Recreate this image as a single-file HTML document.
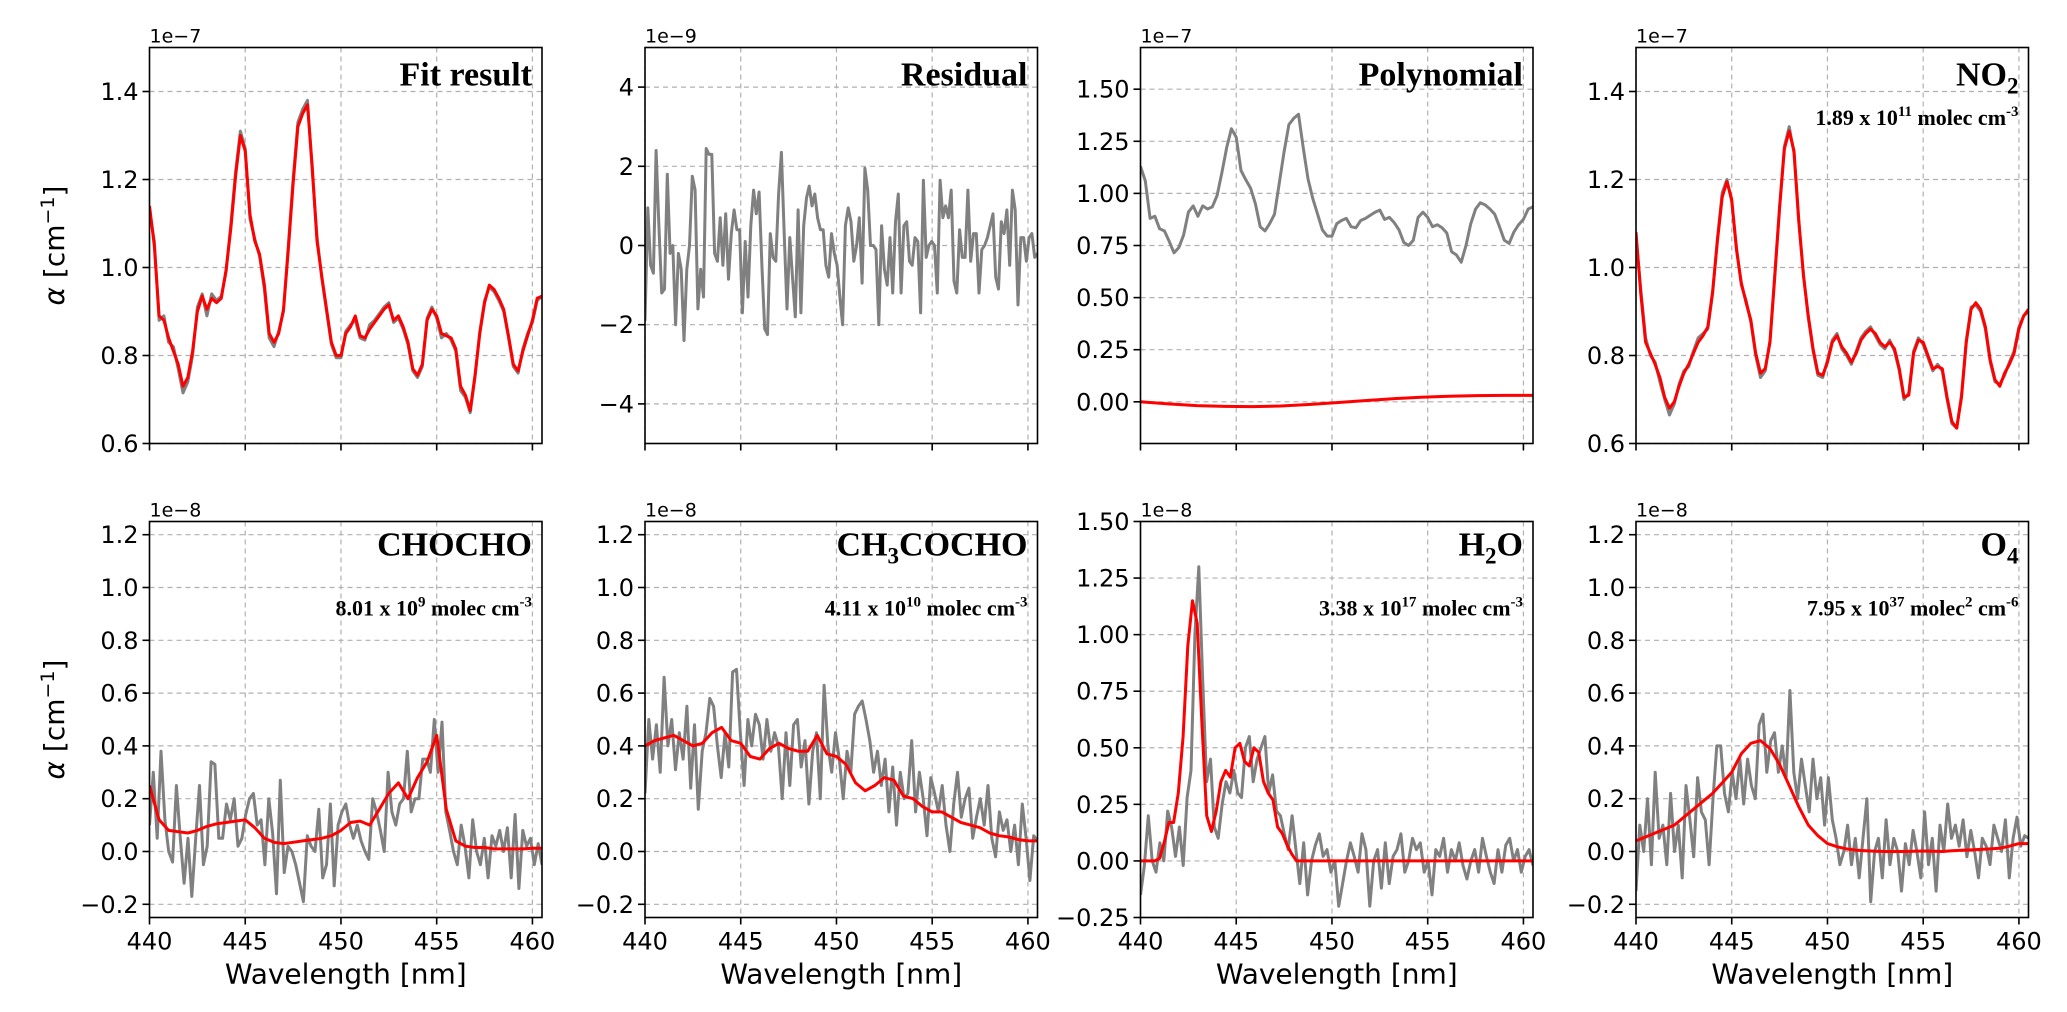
<!DOCTYPE html>
<html><head><meta charset="utf-8"><style>
html,body{margin:0;padding:0;background:#fff;}
svg{display:block;}
</style></head><body>
<svg id="fig" width="2067" height="1012" viewBox="0 0 2067 1012" xmlns="http://www.w3.org/2000/svg" font-family="'DejaVu Sans','Liberation Sans',sans-serif"></svg>
<script>
// ---------- DATA ----------
const xStart = 440, xEnd = 460.5;
const fitFit = [1.14,1.05,0.89,0.88,0.84,0.81,0.78,0.73,0.75,0.81,0.90,0.935,0.905,0.93,0.92,0.93,0.995,1.09,1.21,1.30,1.265,1.12,1.06,1.03,0.96,0.85,0.83,0.85,0.905,1.04,1.19,1.32,1.35,1.37,1.23,1.06,0.98,0.905,0.83,0.80,0.80,0.85,0.865,0.89,0.845,0.84,0.86,0.875,0.89,0.905,0.915,0.88,0.89,0.865,0.83,0.77,0.755,0.78,0.88,0.905,0.89,0.85,0.845,0.84,0.815,0.73,0.71,0.675,0.755,0.85,0.92,0.96,0.95,0.93,0.905,0.845,0.78,0.765,0.81,0.845,0.88,0.93,0.935];
const fitMeasured = [1.13,1.06,0.88,0.89,0.83,0.82,0.77,0.715,0.74,0.80,0.91,0.94,0.89,0.94,0.925,0.935,0.99,1.10,1.22,1.31,1.27,1.11,1.065,1.025,0.95,0.84,0.82,0.855,0.90,1.05,1.20,1.33,1.36,1.38,1.22,1.07,0.975,0.90,0.825,0.795,0.795,0.855,0.87,0.88,0.84,0.835,0.87,0.88,0.895,0.91,0.92,0.875,0.885,0.86,0.825,0.765,0.75,0.775,0.885,0.91,0.885,0.84,0.85,0.835,0.81,0.72,0.705,0.67,0.75,0.855,0.925,0.955,0.945,0.925,0.90,0.84,0.775,0.76,0.815,0.85,0.875,0.925,0.935];
const residual = [-1.9,0.95,-0.5,-0.7,2.4,0.5,-1.2,-1.1,1.8,-0.2,0.0,-2.0,-0.2,-0.6,-2.4,-0.6,0.0,1.75,1.4,-1.6,-0.6,-1.3,2.45,2.3,2.3,-0.2,-0.4,0.7,-0.5,0.8,-0.85,0.3,0.9,0.4,0.4,-1.7,0.1,-1.3,0.5,1.4,0.8,1.35,-0.5,-2.1,-2.25,0.3,-0.3,-0.4,1.3,2.35,0.3,-1.6,0.2,-0.8,-1.8,0.9,-1.7,0.5,1.2,1.5,1.0,1.3,0.7,0.4,0.4,-0.5,-0.8,0.3,-0.2,-0.5,-1.3,-2.0,0.5,0.95,0.6,-0.4,0.0,0.7,-0.95,1.95,1.4,0.0,0.0,-0.1,-2.0,0.5,-0.6,-1.0,0.2,-1.2,0.6,1.3,-1.2,0.5,0.6,-0.4,-0.5,0.2,0.1,-1.7,1.65,-0.3,0.0,0.1,0.0,-1.2,1.65,0.7,1.0,0.7,1.4,-0.9,-1.2,0.4,-0.3,-0.3,1.4,-0.4,0.3,0.3,-1.2,-0.1,0.0,0.2,0.5,0.8,-0.8,-1.1,0.6,0.3,0.9,-0.5,1.4,0.9,-1.5,0.2,0.2,-0.4,0.2,0.3,-0.3,-0.2];
const polyFit = [0.0,-0.01,-0.018,-0.022,-0.023,-0.02,-0.013,-0.004,0.006,0.015,0.022,0.027,0.03,0.031,0.031];
const no2Fit = [1.08,0.94,0.83,0.805,0.78,0.75,0.705,0.68,0.695,0.73,0.76,0.78,0.805,0.83,0.845,0.865,0.945,1.06,1.16,1.195,1.155,1.04,0.965,0.92,0.88,0.805,0.76,0.77,0.83,0.98,1.135,1.27,1.31,1.265,1.11,0.98,0.89,0.815,0.76,0.755,0.785,0.83,0.845,0.82,0.805,0.785,0.805,0.835,0.85,0.86,0.85,0.83,0.82,0.83,0.815,0.77,0.705,0.71,0.805,0.835,0.83,0.8,0.77,0.775,0.77,0.705,0.65,0.635,0.705,0.83,0.905,0.92,0.905,0.865,0.79,0.745,0.73,0.76,0.78,0.805,0.86,0.89,0.905];
const no2Meas = [1.07,0.95,0.84,0.80,0.785,0.74,0.70,0.665,0.69,0.735,0.765,0.775,0.81,0.84,0.85,0.86,0.94,1.065,1.17,1.20,1.15,1.045,0.96,0.925,0.875,0.80,0.75,0.765,0.835,0.985,1.14,1.275,1.32,1.26,1.105,0.985,0.885,0.81,0.755,0.75,0.79,0.835,0.85,0.815,0.80,0.78,0.81,0.84,0.855,0.865,0.845,0.825,0.815,0.835,0.81,0.765,0.70,0.715,0.81,0.84,0.825,0.795,0.765,0.78,0.765,0.70,0.645,0.635,0.71,0.835,0.91,0.915,0.90,0.86,0.785,0.74,0.735,0.755,0.785,0.81,0.865,0.89,0.90];
const chochoMeas = [0.1,0.3,0.05,0.38,0.12,0.0,-0.04,0.25,0.05,-0.12,0.05,-0.17,0.05,0.25,-0.05,0.02,0.34,0.33,0.05,0.05,0.18,0.12,0.2,0.02,0.05,0.14,0.2,0.22,0.1,0.12,-0.05,0.2,0.07,-0.16,0.27,-0.08,0.02,0.0,-0.05,-0.12,-0.19,0.06,0.02,0.0,0.16,-0.1,-0.05,0.18,-0.13,0.1,0.15,0.18,0.1,0.05,0.1,0.04,0.0,-0.03,0.2,0.15,0.08,0.0,0.3,0.15,0.1,0.18,0.2,0.38,0.15,0.2,0.2,0.35,0.35,0.3,0.5,0.3,0.49,0.15,0.08,0.0,-0.05,0.1,0.02,-0.1,0.12,0.0,-0.05,0.05,-0.1,0.06,0.02,0.08,0.0,0.09,-0.1,0.14,-0.14,0.08,0.02,0.05,-0.05,0.03,-0.05];
const chochoFit = [0.25,0.12,0.08,0.075,0.07,0.08,0.095,0.105,0.11,0.115,0.12,0.09,0.05,0.035,0.03,0.035,0.04,0.045,0.05,0.06,0.08,0.11,0.115,0.1,0.16,0.22,0.26,0.2,0.28,0.34,0.44,0.16,0.04,0.02,0.015,0.015,0.01,0.01,0.01,0.01,0.012,0.012];
const mgMeas = [0.22,0.5,0.35,0.48,0.3,0.66,0.4,0.5,0.31,0.45,0.35,0.55,0.24,0.48,0.16,0.38,0.45,0.58,0.55,0.4,0.28,0.45,0.32,0.68,0.69,0.45,0.25,0.5,0.4,0.52,0.48,0.35,0.5,0.38,0.45,0.4,0.2,0.45,0.25,0.48,0.5,0.32,0.42,0.18,0.38,0.45,0.2,0.63,0.4,0.3,0.45,0.35,0.2,0.38,0.3,0.52,0.55,0.57,0.5,0.42,0.3,0.38,0.25,0.35,0.15,0.32,0.1,0.3,0.2,0.22,0.42,0.15,0.3,0.2,0.06,0.28,0.22,0.15,0.25,0.1,0.0,0.18,0.3,0.13,0.2,0.24,0.05,0.13,0.2,0.1,0.25,0.05,-0.02,0.15,0.08,0.12,0.0,0.1,-0.05,0.18,0.05,-0.11,0.06,0.04];
const mgFit = [0.40,0.42,0.43,0.44,0.42,0.40,0.41,0.45,0.47,0.42,0.41,0.36,0.35,0.39,0.41,0.39,0.38,0.38,0.44,0.37,0.36,0.33,0.26,0.23,0.25,0.28,0.27,0.21,0.2,0.17,0.15,0.15,0.13,0.11,0.1,0.09,0.07,0.06,0.055,0.045,0.04,0.04];
const h2oMeas = [-0.15,-0.02,0.2,0.0,-0.05,0.08,0.0,0.22,0.15,0.02,0.15,-0.02,0.28,0.4,1.0,1.3,0.8,0.35,0.45,0.15,0.1,0.25,0.35,0.3,0.4,0.3,0.28,0.5,0.55,0.35,0.45,0.5,0.55,0.3,0.38,0.22,0.2,0.12,0.05,0.2,0.05,-0.1,0.08,-0.15,0.0,0.07,0.12,0.02,0.05,-0.05,0.0,-0.2,-0.1,0.0,0.08,0.02,-0.05,0.12,0.05,-0.2,0.0,0.05,-0.12,0.08,-0.1,0.02,0.05,0.12,-0.05,0.0,0.1,0.05,0.08,-0.05,0.0,-0.15,0.05,0.02,0.1,-0.05,0.05,0.0,0.08,-0.02,-0.08,0.0,0.05,-0.05,0.1,0.02,-0.05,-0.1,0.05,-0.05,0.07,0.1,0.0,0.05,-0.05,0.02,0.05,-0.02];
const h2oFit = [0,0,0,0,0.01,0.08,0.17,0.17,0.3,0.55,0.95,1.15,1.05,0.6,0.2,0.13,0.22,0.35,0.4,0.37,0.5,0.52,0.44,0.42,0.5,0.48,0.35,0.3,0.27,0.15,0.12,0.07,0.03,0,0,0,0,0,0,0,0,0,0,0,0,0,0,0,0,0,0,0,0,0,0,0,0,0,0,0,0,0,0,0,0,0,0,0,0,0,0,0,0,0,0,0,0,0,0,0,0,0,0,0];
const o4Meas = [-0.15,0.1,0.0,0.2,-0.05,0.3,0.05,0.1,-0.05,0.22,0.0,0.1,-0.1,0.25,0.12,-0.02,0.28,0.15,0.12,-0.05,0.2,0.4,0.4,0.22,0.15,0.3,0.2,0.35,0.18,0.35,0.25,0.2,0.48,0.52,0.3,0.42,0.45,0.3,0.4,0.28,0.61,0.3,0.2,0.35,0.25,0.15,0.35,0.2,0.28,0.1,0.28,0.12,0.05,-0.05,0.0,0.1,-0.05,0.05,-0.1,0.05,0.2,-0.19,0.0,0.05,-0.1,0.12,-0.05,0.05,0.0,-0.15,0.03,-0.05,0.08,0.0,-0.1,0.15,-0.05,0.05,-0.15,0.1,0.0,0.18,0.05,0.1,0.02,0.12,-0.02,0.08,0.0,-0.1,0.05,0.02,-0.05,0.1,0.05,0.0,0.12,-0.1,0.05,0.13,0.02,0.06,0.05];
const o4Fit = [0.04,0.055,0.07,0.085,0.1,0.13,0.16,0.19,0.22,0.26,0.3,0.37,0.41,0.42,0.39,0.33,0.25,0.17,0.1,0.06,0.03,0.018,0.01,0.005,0.003,0.001,0.0,0.0,0.0,0.001,0.002,0.001,0.0,0.003,0.005,0.006,0.008,0.01,0.012,0.02,0.03,0.03];
const xTicks = [440,445,450,455,460];
const ticksFit = [0.6,0.8,1.0,1.2,1.4];
const ticksRes = [-4,-2,0,2,4];
const ticksPoly = [0,0.25,0.5,0.75,1.0,1.25,1.5];
const ticksBot = [-0.2,0,0.2,0.4,0.6,0.8,1.0,1.2];
const ticksH2O = [-0.25,0,0.25,0.5,0.75,1.0,1.25,1.5];

// ---------- DRAW ----------
const NS='http://www.w3.org/2000/svg';
const svg=document.getElementById('fig');
function mk(tag,attrs,parent){const e=document.createElementNS(NS,tag);for(const k in attrs)e.setAttribute(k,attrs[k]);(parent||svg).appendChild(e);return e;}
function fmt(v,d){let s=v.toFixed(d);if(v<0)s='\u2212'+(-v).toFixed(d);if(Math.abs(v)<1e-9)s=(0).toFixed(d);return s;}

const W=392.5,H=396;
const panels=[
 {name:'fit-result',x:149.5,y:47.5,yl:[0.6,1.5],ticks:ticksFit,dec:1,mult:'1e\u22127',title:'Fit result',series:[[fitMeasured,'#808080'],[fitFit,'#ff0000']],xlab:false,ylab:true},
 {name:'residual',x:645,y:47.5,yl:[-5,5],ticks:ticksRes,dec:0,mult:'1e\u22129',title:'Residual',series:[[residual,'#808080']],xlab:false},
 {name:'polynomial',x:1140.5,y:47.5,yl:[-0.2,1.7],ticks:ticksPoly,dec:2,mult:'1e\u22127',title:'Polynomial',series:[[fitMeasured,'#808080'],[polyFit,'#ff0000']],xlab:false},
 {name:'no2',x:1636,y:47.5,yl:[0.6,1.5],ticks:ticksFit,dec:1,mult:'1e\u22127',title:['NO','2',''],conc:['1.89 x 10','11',' molec cm','-3'],concY:125,concSize:22,series:[[no2Meas,'#808080'],[no2Fit,'#ff0000']],xlab:false},
 {name:'chocho',x:149.5,y:521.5,yl:[-0.25,1.25],ticks:ticksBot,dec:1,mult:'1e\u22128',title:'CHOCHO',conc:['8.01 x 10','9',' molec cm','-3'],series:[[chochoMeas,'#808080'],[chochoFit,'#ff0000']],xlab:true,ylab:true},
 {name:'ch3cocho',x:645,y:521.5,yl:[-0.25,1.25],ticks:ticksBot,dec:1,mult:'1e\u22128',title:['CH','3','COCHO'],conc:['4.11 x 10','10',' molec cm','-3'],series:[[mgMeas,'#808080'],[mgFit,'#ff0000']],xlab:true},
 {name:'h2o',x:1140.5,y:521.5,yl:[-0.25,1.5],ticks:ticksH2O,dec:2,mult:'1e\u22128',title:['H','2','O'],conc:['3.38 x 10','17',' molec cm','-3'],series:[[h2oMeas,'#808080'],[h2oFit,'#ff0000']],xlab:true},
 {name:'o4',x:1636,y:521.5,yl:[-0.25,1.25],ticks:ticksBot,dec:1,mult:'1e\u22128',title:['O','4',''],conc:['7.95 x 10','37',' molec','2',' cm','-6'],series:[[o4Meas,'#808080'],[o4Fit,'#ff0000']],xlab:true}
];

panels.forEach(p=>{
 const g=mk('g',{});
 
 
 const xs=v=>p.x+(v-xStart)/(xEnd-xStart)*W;
 const ys=v=>p.y+H-(v-p.yl[0])/(p.yl[1]-p.yl[0])*H;
 const cid='clip-'+p.name;
 const cp=mk('clipPath',{id:cid},g);mk('rect',{x:p.x,y:p.y,width:W,height:H},cp);
 xTicks.forEach(t=>{const l=mk('line',{x1:xs(t),x2:xs(t),y1:p.y,y2:p.y+H,stroke:'#b0b0b0','stroke-width':1.2,'stroke-dasharray':'5,4'},g);
  });
 p.ticks.forEach(t=>{const l=mk('line',{x1:p.x,x2:p.x+W,y1:ys(t),y2:ys(t),stroke:'#b0b0b0','stroke-width':1.2,'stroke-dasharray':'5,4'},g);
  });
 p.series.forEach((s,si)=>{
  const arr=s[0];const n=arr.length;
  const pts=arr.map((v,i)=>xs(xStart+i*(xEnd-xStart)/(n-1)).toFixed(1)+','+ys(v).toFixed(1)).join(' ');
  const pl=mk('polyline',{points:pts,fill:'none',stroke:s[1],'stroke-width':3,'stroke-linejoin':'round','clip-path':'url(#'+cid+')'},g);
  
  
 });
 const fr=mk('rect',{x:p.x,y:p.y,width:W,height:H,fill:'none',stroke:'#000','stroke-width':1.6},g);
 
 xTicks.forEach(t=>{mk('line',{x1:xs(t),x2:xs(t),y1:p.y+H,y2:p.y+H+7,stroke:'#000','stroke-width':1.6},g);
  if(p.xlab){const tx=mk('text',{x:xs(t),y:p.y+H+32,'font-size':24,'text-anchor':'middle',fill:'#000'},g);tx.textContent=t;
   }});
 p.ticks.forEach(t=>{mk('line',{x1:p.x-7,x2:p.x,y1:ys(t),y2:ys(t),stroke:'#000','stroke-width':1.6},g);
  const tx=mk('text',{x:p.x-11,y:ys(t)+8.5,'font-size':24,'text-anchor':'end',fill:'#000'},g);tx.textContent=fmt(t,p.dec);
  });
 const m=mk('text',{x:p.x,y:p.y-5,'font-size':19,fill:'#000'},g);m.textContent=p.mult;
 
 const tt=mk('text',{x:p.x+W-10,y:p.y+(p.y<100?38:34),'font-size':34,'font-weight':'bold','text-anchor':'end','font-family':"'Liberation Serif',serif",fill:'#000'},g);
 
 if(typeof p.title==='string')tt.textContent=p.title;
 else{const a=mk('tspan',{},tt);a.textContent=p.title[0];const b=mk('tspan',{dy:8,'font-size':23},tt);b.textContent=p.title[1];
  if(p.title[2]){const c=mk('tspan',{dy:-8},tt);c.textContent=p.title[2];}else{const c=mk('tspan',{dy:-8,'font-size':1},tt);c.textContent=' ';}}
 if(p.conc){
  const sz=p.concSize||22;
  const ct=mk('text',{x:p.x+W-10,y:p.concY||(p.y+94),'font-size':sz,'font-weight':'bold','text-anchor':'end','font-family':"'Liberation Serif',serif",fill:'#000'},g);
  
  p.conc.forEach((s,i)=>{const sup=i%2===1;const ts=mk('tspan',sup?{dy:-9,'font-size':sz*0.68}:(i>0?{dy:9}:{}),ct);ts.textContent=s;});
 }
 if(p.xlab){const xl=mk('text',{x:p.x+W/2,y:p.y+H+66,'font-size':28,'text-anchor':'middle',fill:'#000'},g);xl.textContent='Wavelength [nm]';
  }
 if(p.ylab){const cy=p.y+H/2;const yl=mk('text',{x:0,y:0,'font-size':28,'text-anchor':'middle',fill:'#000',transform:'translate(64,'+cy+') rotate(-90)'},g);
  
  const a=mk('tspan',{'font-style':'italic'},yl);a.textContent='\u03b1';const b=mk('tspan',{},yl);b.textContent=' [cm';
  const c=mk('tspan',{dy:-10,'font-size':19},yl);c.textContent='\u22121';const d=mk('tspan',{dy:10},yl);d.textContent=']';}
});
</script>
</body></html>
